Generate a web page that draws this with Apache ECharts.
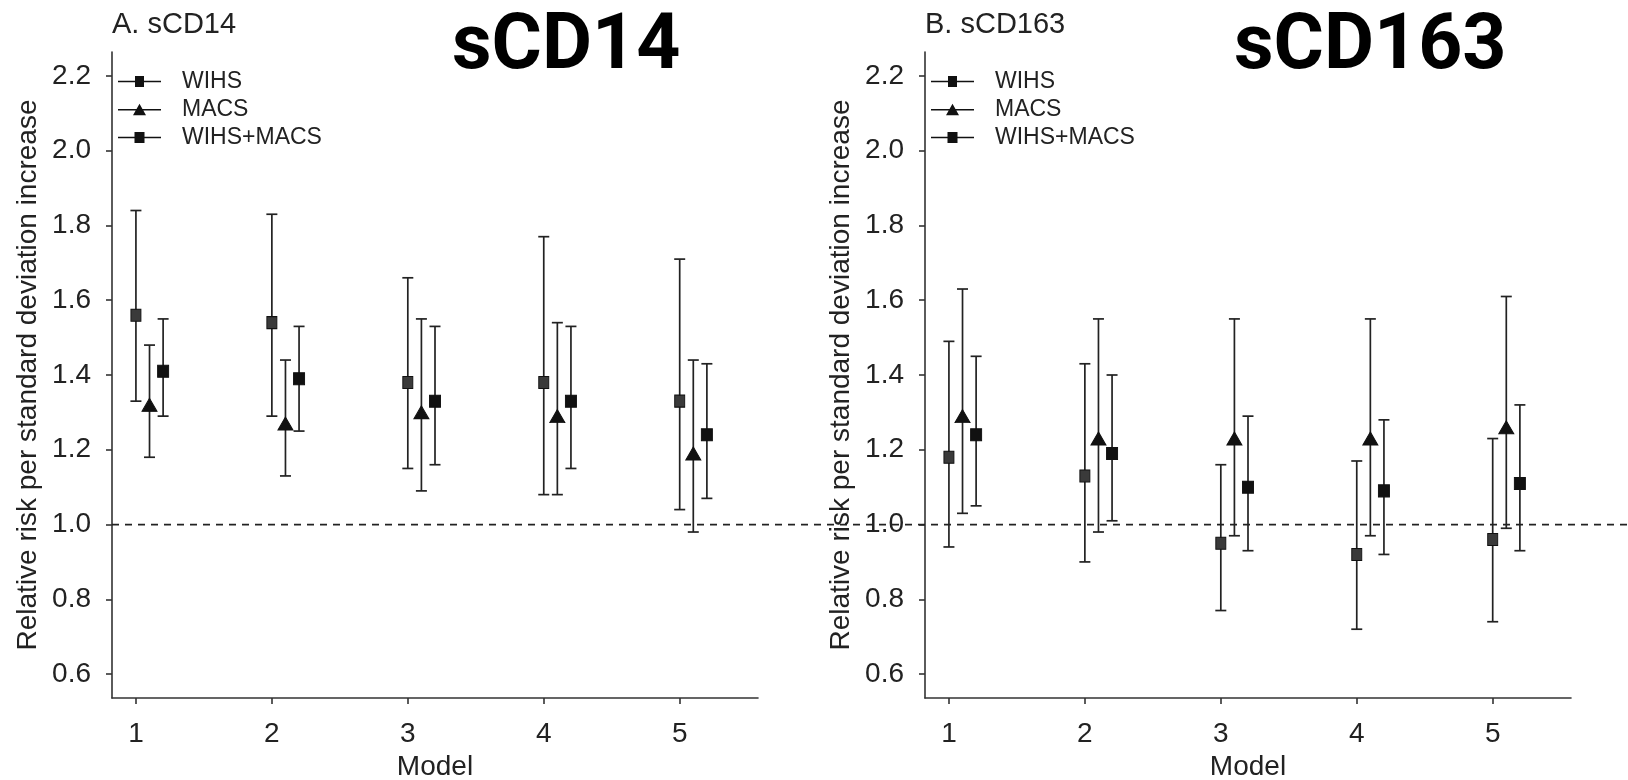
<!DOCTYPE html>
<html>
<head>
<meta charset="utf-8">
<title>sCD14 / sCD163</title>
<script src="https://cdn.jsdelivr.net/npm/echarts@6/dist/echarts.min.js"></script>
<style>
  html, body { margin: 0; padding: 0; background: #fff; }
  #chart { width: 1628px; height: 780px; }
</style>
</head>
<body>
<div id="chart"></div>
<script>
// 数据
const MODELS = [1, 2, 3, 4, 5]
const Y_TICKS = [0.6, 0.8, 1.0, 1.2, 1.4, 1.6, 1.8, 2.0, 2.2]
const REF_VALUE = 1.0
const GROUPS = ['WIHS', 'MACS', 'WIHS+MACS']

// A. sCD14
const CD14_WIHS_RR = [1.56, 1.54, 1.38, 1.38, 1.33]
const CD14_WIHS_LO = [1.33, 1.29, 1.15, 1.08, 1.04]
const CD14_WIHS_HI = [1.84, 1.83, 1.66, 1.77, 1.71]
const CD14_MACS_RR = [1.32, 1.27, 1.30, 1.29, 1.19]
const CD14_MACS_LO = [1.18, 1.13, 1.09, 1.08, 0.98]
const CD14_MACS_HI = [1.48, 1.44, 1.55, 1.54, 1.44]
const CD14_BOTH_RR = [1.41, 1.39, 1.33, 1.33, 1.24]
const CD14_BOTH_LO = [1.29, 1.25, 1.16, 1.15, 1.07]
const CD14_BOTH_HI = [1.55, 1.53, 1.53, 1.53, 1.43]

// B. sCD163
const CD163_WIHS_RR = [1.18, 1.13, 0.95, 0.92, 0.96]
const CD163_WIHS_LO = [0.94, 0.90, 0.77, 0.72, 0.74]
const CD163_WIHS_HI = [1.49, 1.43, 1.16, 1.17, 1.23]
const CD163_MACS_RR = [1.29, 1.23, 1.23, 1.23, 1.26]
const CD163_MACS_LO = [1.03, 0.98, 0.97, 0.97, 0.99]
const CD163_MACS_HI = [1.63, 1.55, 1.55, 1.55, 1.61]
const CD163_BOTH_RR = [1.24, 1.19, 1.10, 1.09, 1.11]
const CD163_BOTH_LO = [1.05, 1.01, 0.93, 0.92, 0.93]
const CD163_BOTH_HI = [1.45, 1.40, 1.29, 1.28, 1.32]

// 布局与样式
const FONT = '"Liberation Sans", Arial, sans-serif'
const INK = '#222'
const X_RANGE = [0.824, 5.576]
const Y_RANGE = [0.536, 2.264]
const DODGE = [0, 0.1, 0.2]
const SYMBOLS = [
  { symbol: 'rect', size: [10, 12], color: '#3a3a3a', border: '#111' },
  { symbol: 'triangle', size: [15, 13], color: '#111', border: '#111' },
  { symbol: 'rect', size: [11, 12], color: '#111', border: '#111' }
]
const LEGEND_ICONS = [
  'path://M0,5.3L43,5.3L43,6.7L0,6.7Z M17,0.5L26,0.5L26,11.5L17,11.5Z',
  'path://M0,5.3L43,5.3L43,6.7L0,6.7Z M21.5,0L28,11.5L15,11.5Z',
  'path://M0,5.3L43,5.3L43,6.7L0,6.7Z M16.5,0.5L26.5,0.5L26.5,11.5L16.5,11.5Z'
]

const panels = [
  {
    title: 'A. sCD14', big: 'sCD14', left: 112, bigLeft: 452,
    rr: [CD14_WIHS_RR, CD14_MACS_RR, CD14_BOTH_RR],
    lo: [CD14_WIHS_LO, CD14_MACS_LO, CD14_BOTH_LO],
    hi: [CD14_WIHS_HI, CD14_MACS_HI, CD14_BOTH_HI]
  },
  {
    title: 'B. sCD163', big: 'sCD163', left: 925, bigLeft: 1234,
    rr: [CD163_WIHS_RR, CD163_MACS_RR, CD163_BOTH_RR],
    lo: [CD163_WIHS_LO, CD163_MACS_LO, CD163_BOTH_LO],
    hi: [CD163_WIHS_HI, CD163_MACS_HI, CD163_BOTH_HI]
  }
]

const chart = echarts.init(document.getElementById('chart'))

// 误差线
function renderErrorBar(params, api) {
  const x = api.value(0)
  const top = api.coord([x, api.value(2)])
  const bottom = api.coord([x, api.value(1)])
  const half = 5.5
  const style = { stroke: INK, lineWidth: 1.7 }
  return {
    type: 'group',
    children: [
      { type: 'line', shape: { x1: top[0], y1: top[1], x2: bottom[0], y2: bottom[1] }, style },
      { type: 'line', shape: { x1: top[0] - half, y1: top[1], x2: top[0] + half, y2: top[1] }, style },
      { type: 'line', shape: { x1: bottom[0] - half, y1: bottom[1], x2: bottom[0] + half, y2: bottom[1] }, style }
    ]
  }
}

const grids = []
const xAxes = []
const yAxes = []
const series = []
const titles = []
const legends = []

panels.forEach((p, pi) => {
  grids.push({ left: p.left, top: 52, width: 646, height: 646, outerBoundsMode: 'none' })
  xAxes.push({
    gridIndex: pi,
    type: 'value',
    min: X_RANGE[0],
    max: X_RANGE[1],
    name: 'Model',
    nameLocation: 'middle',
    nameGap: 54,
    nameTextStyle: { fontFamily: FONT, fontSize: 28, color: INK },
    axisLine: { show: true, onZero: false, lineStyle: { color: '#333', width: 1.6 } },
    axisTick: { show: true, customValues: MODELS, length: 6, lineStyle: { color: '#333', width: 1.6 } },
    axisLabel: { customValues: MODELS, fontFamily: FONT, fontSize: 28, color: INK, margin: 22 },
    splitLine: { show: false }
  })
  yAxes.push({
    gridIndex: pi,
    type: 'value',
    min: Y_RANGE[0],
    max: Y_RANGE[1],
    name: 'Relative risk per standard deviation increase',
    nameLocation: 'middle',
    nameGap: 70,
    nameTextStyle: { fontFamily: FONT, fontSize: 28, color: INK },
    axisLine: { show: true, lineStyle: { color: '#333', width: 1.6 } },
    axisTick: { show: true, customValues: Y_TICKS, length: 6, lineStyle: { color: '#333', width: 1.6 } },
    axisLabel: {
      customValues: Y_TICKS, fontFamily: FONT, fontSize: 28, color: INK, margin: 21,
      formatter: v => v.toFixed(1)
    },
    splitLine: { show: false }
  })

  GROUPS.forEach((g, gi) => {
    const xs = MODELS.map(m => m + DODGE[gi])
    series.push({
      type: 'custom',
      xAxisIndex: pi,
      yAxisIndex: pi,
      renderItem: renderErrorBar,
      silent: true,
      z: 2,
      data: xs.map((x, i) => [x, p.lo[gi][i], p.hi[gi][i]])
    })
    series.push({
      name: g,
      type: 'scatter',
      xAxisIndex: pi,
      yAxisIndex: pi,
      symbol: SYMBOLS[gi].symbol,
      symbolSize: SYMBOLS[gi].size,
      itemStyle: { color: SYMBOLS[gi].color, borderColor: SYMBOLS[gi].border, borderWidth: 1, opacity: 1 },
      z: 4,
      data: xs.map((x, i) => [x, p.rr[gi][i]])
    })
  })

  titles.push({
    text: p.title, left: p.left, top: 10, padding: 0,
    textStyle: { fontFamily: FONT, fontSize: 29, fontWeight: 'normal', color: INK }
  })
  titles.push({
    text: p.big, left: p.bigLeft, top: 10, padding: 0,
    textStyle: { fontFamily: 'Roboto, sans-serif', fontSize: 77, fontWeight: 'bold', color: '#000' }
  })
  legends.push({
    orient: 'vertical',
    left: p.left + 6,
    top: 70,
    padding: 0,
    itemWidth: 43,
    itemHeight: 12,
    itemGap: 5,
    selectedMode: false,
    textStyle: { fontFamily: FONT, fontSize: 23, color: INK, padding: [0, 0, 0, 16] },
    data: GROUPS.map((g, gi) => ({ name: g, icon: LEGEND_ICONS[gi], itemStyle: { color: '#111', borderWidth: 0 } }))
  })
})

// 参考线 y = 1.0，横跨整个图
grids.push({ left: 112, top: 52, right: 0, height: 646, outerBoundsMode: 'none' })
xAxes.push({ gridIndex: 2, type: 'value', min: 0, max: 1, show: false })
yAxes.push({ gridIndex: 2, type: 'value', min: Y_RANGE[0], max: Y_RANGE[1], show: false })
series.push({
  type: 'line',
  xAxisIndex: 2,
  yAxisIndex: 2,
  symbol: 'none',
  silent: true,
  z: 1,
  lineStyle: { color: '#222', width: 1.8, type: [7, 6] },
  data: [[0, REF_VALUE], [1, REF_VALUE]]
})

const option = {
  animation: false,
  backgroundColor: '#fff',
  title: titles,
  legend: legends,
  grid: grids,
  xAxis: xAxes,
  yAxis: yAxes,
  series: series
}
chart.setOption(option)
</script>
</body>
</html>
